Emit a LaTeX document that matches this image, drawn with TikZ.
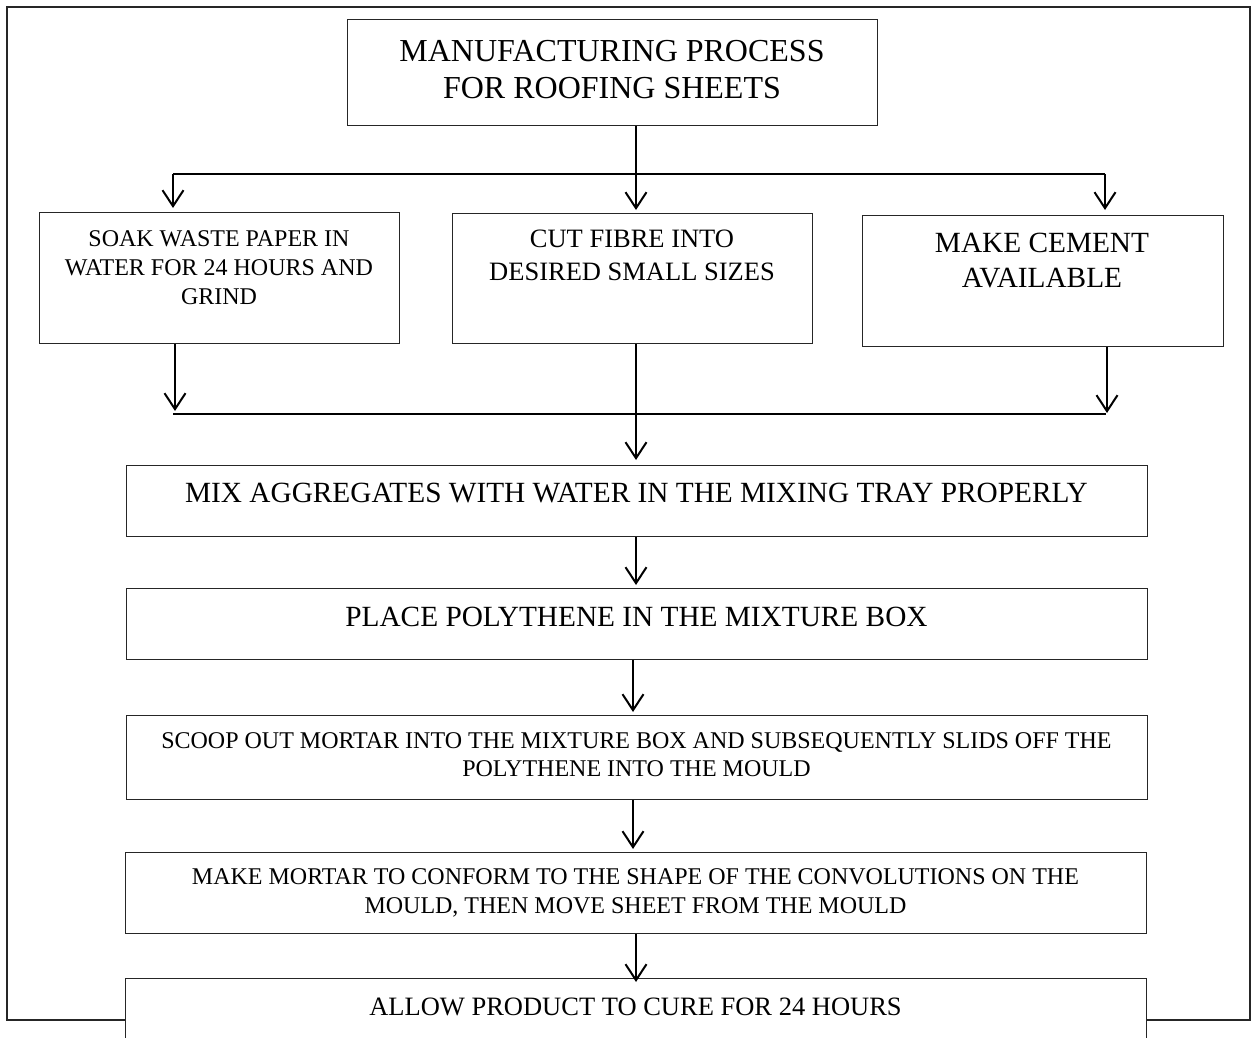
\documentclass[tikz,border=0pt]{standalone}
\usepackage{fontspec}
\setmainfont{Liberation Serif}
\usetikzlibrary{arrows.meta}
\tikzset{
  box/.style={draw=black!85, line width=1.3pt, inner sep=0pt, anchor=north west, fill=white},
  txt/.style={inner sep=0pt, anchor=north, align=center},
  conn/.style={line width=2.2pt},
  arr/.style={line width=2pt, -{Straight Barb[length=16pt,width=21pt,line width=2pt]}},
  frame/.style={draw=black!85, line width=1.3pt},
}
\begin{document}
\begin{tikzpicture}[x=1pt,y=-1pt]
\clip (0,0) rectangle (1256,1038);
\fill[white] (0,0) rectangle (1256,1038);
% outer frame
\draw[frame] (7,7) rectangle (1250,1020);
% boxes
\node[box, minimum width=530pt, minimum height=106pt] (title) at (347,19) {};
\node[box, minimum width=360pt, minimum height=131pt] (soak) at (39,212) {};
\node[box, minimum width=360pt, minimum height=130pt] (cut) at (452,213) {};
\node[box, minimum width=361pt, minimum height=131pt] (cement) at (862,215) {};
\node[box, minimum width=1021pt, minimum height=71pt] (mix) at (126,465) {};
\node[box, minimum width=1021pt, minimum height=71pt] (place) at (126,588) {};
\node[box, minimum width=1021pt, minimum height=84pt] (scoop) at (126,715) {};
\node[box, minimum width=1021pt, minimum height=81pt] (mortar) at (125,852) {};
\node[box, minimum width=1021pt, minimum height=95pt] (cure) at (125,978) {};
% texts
\node[txt, font=\fontsize{32}{37}\selectfont] (ttitle) at (612,40) {MANUFACTURING PROCESS\\FOR ROOFING SHEETS};
\node[txt, font=\fontsize{24}{29.3}\selectfont] (tsoak) at (219,230) {SOAK WASTE PAPER IN\\WATER FOR 24 HOURS AND\\GRIND};
\node[txt, font=\fontsize{26.5}{33}\selectfont] (tcut) at (632,230) {CUT FIBRE INTO\\DESIRED SMALL SIZES};
\node[txt, font=\fontsize{29.3}{35}\selectfont] (tcement) at (1042,233) {MAKE CEMENT\\AVAILABLE};
\node[txt, font=\fontsize{29.3}{35}\selectfont] (tmix) at (636.5,483) {MIX AGGREGATES WITH WATER IN THE MIXING TRAY PROPERLY};
\node[txt, font=\fontsize{29.3}{35}\selectfont] (tplace) at (636.5,607) {PLACE POLYTHENE IN THE MIXTURE BOX};
\node[txt, font=\fontsize{24}{28}\selectfont] (tscoop) at (636.5,732) {SCOOP OUT MORTAR INTO THE MIXTURE BOX AND SUBSEQUENTLY SLIDS OFF THE\\POLYTHENE INTO THE MOULD};
\node[txt, font=\fontsize{24}{29}\selectfont] (tmortar) at (635.5,868) {MAKE MORTAR TO CONFORM TO THE SHAPE OF THE CONVOLUTIONS ON THE\\MOULD, THEN MOVE SHEET FROM THE MOULD};
\node[txt, font=\fontsize{26.5}{32}\selectfont] (tcure) at (635.5,998) {ALLOW PRODUCT TO CURE FOR 24 HOURS};
% branch points
\coordinate (xtop) at (636,210);
\coordinate (bl) at (173,174);
\coordinate (br) at (1105,174);
\coordinate (ml) at (173,414);
\coordinate (mr) at (1106,414);
\coordinate (sl) at (175,411);
\coordinate (sr) at (1107,413);
\coordinate (xm) at (633,0);
% top fan-out
\draw[arr] (title.south -| xtop) -- (xtop);
\draw[conn] (bl) -- (br);
\draw[arr, shorten >=4pt] (bl) -- (bl |- soak.north);
\draw[arr, shorten >=5pt] (br) -- (br |- cement.north);
% merge
\draw[conn] (ml) -- (mr);
\draw[arr] (soak.south -| sl) -- (sl);
\draw[arr] (cement.south -| sr) -- (sr);
\draw[arr, shorten >=5pt] (cut.south -| xtop) -- (mix.north -| xtop);
% chain
\draw[arr, shorten >=3pt] (mix.south -| xtop) -- (place.north -| xtop);
\draw[arr, shorten >=3pt] (place.south -| xm) -- (scoop.north -| xm);
\draw[arr, shorten >=3pt] (scoop.south -| xm) -- (mortar.north -| xm);
\draw[arr, shorten >=-4pt] (mortar.south -| xtop) -- (cure.north -| xtop);
\end{tikzpicture}
\end{document}
